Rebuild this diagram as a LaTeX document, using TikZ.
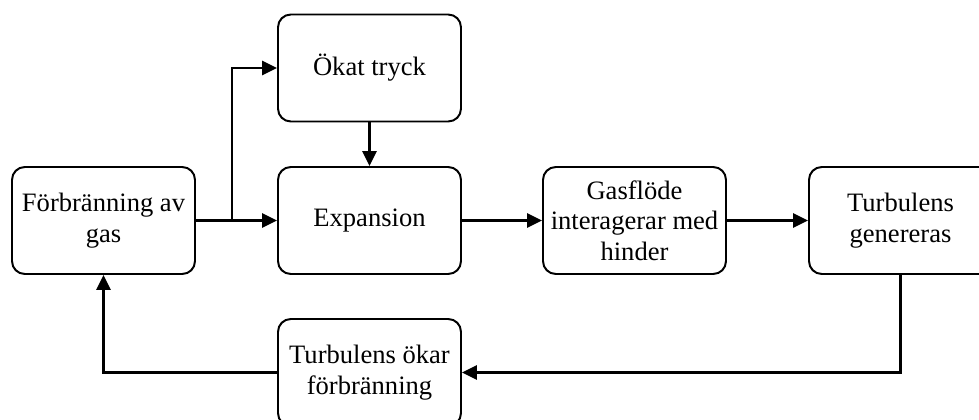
\documentclass[tikz,border=0pt]{standalone}
\usepackage{fontspec}
\setmainfont{Liberation Serif}
\usetikzlibrary{arrows.meta}

\begin{document}
\begin{tikzpicture}[line width=2pt, >={Triangle[length=0.375cm,width=0.35cm]},
		box/.style={draw, line width=1.4pt, rounded corners=0.32cm, minimum width=4.575cm, minimum height=2.675cm, inner sep=1pt, align=center, font=\fontsize{18.9}{21.7}\selectfont}]
	\useasboundingbox (0,0) rectangle (24.475,-10.475);

	\node[box] (burn) at (2.5875,-5.5125) {Förbränning av\\gas};
	\node[box] (press) at (9.2375,-1.7) {Ökat tryck};
	\node[box] (expand) at (9.2375,-5.5125) {Expansion};
	\node[box] (flow) at (15.8625,-5.5125) {Gasflöde\\interagerar med\\hinder};
	\node[box] (turb) at (22.5125,-5.5125) {Turbulens\\genereras};
	\node[box] (boost) at (9.2375,-9.3125) {Turbulens ökar\\förbränning};
	\coordinate (split) at (5.8,-5.5125);

	\draw [->] (burn) -- (expand);
	\draw [->] (split) |- (press);
	\draw [->] (press) -- (expand);
	\draw [->] (expand) -- (flow);
	\draw [->] (flow) -- (turb);
	\draw [->] (turb) |- (boost);
	\draw [->] (boost) -| (burn);
\end{tikzpicture}
\end{document}
